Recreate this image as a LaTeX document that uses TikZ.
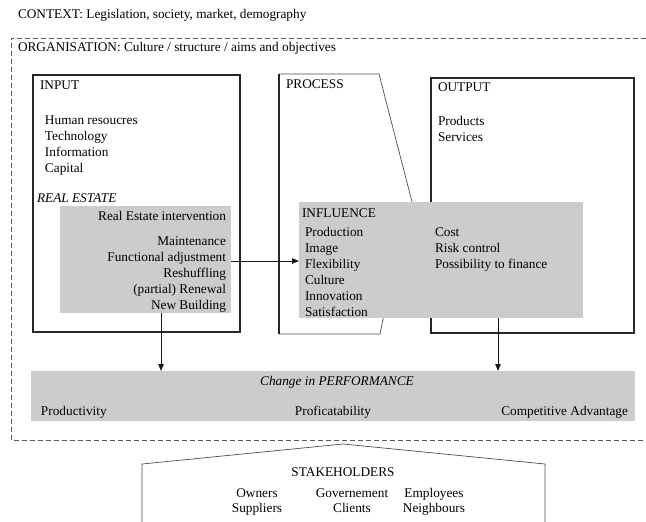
\documentclass[tikz,border=0pt]{standalone}
\usepackage{fontspec}
\setmainfont{Liberation Serif}
\usetikzlibrary{arrows.meta}
\begin{document}
\begin{tikzpicture}[x=1pt,y=-1pt,
  every node/.style={inner sep=0pt,outer sep=0pt,font=\fontsize{13.3}{16}\selectfont},
  lbl/.style={anchor=base west},
  rlbl/.style={anchor=base east},
  clbl/.style={anchor=base},
  frame/.style={draw=black!85,line width=1.1pt,anchor=north west},
  greybox/.style={fill=black!20,draw=none,anchor=north west},
  arr/.style={-{Triangle[length=7pt,width=5.5pt]},line width=0.9pt,black!90},
  orgline/.style={draw=black!65,dash pattern=on 5pt off 3pt,line width=0.9pt},
  thinline/.style={draw=black!70,line width=0.7pt}]
\useasboundingbox (0,0) rectangle (646,522);

% context and organisation
\node[lbl] (context) at (18,19) {CONTEXT: Legislation, society, market, demography};
\draw[orgline] (646,38) -- (11,38) -- (11,440) -- (646,440);
\node[lbl] (org) at (18,52) {ORGANISATION: Culture / structure / aims and objectives};

% input box
\node[frame, minimum width=207pt, minimum height=257pt] (input) at (33,75) {};
\node[lbl] (inlbl) at (40,89) {INPUT};
\node[lbl] (hr) at (45,124) {Human resoucres};
\node[lbl] (tech) at (45,140) {Technology};
\node[lbl] (info) at (45,156) {Information};
\node[lbl] (cap) at (45,172) {Capital};
\node[lbl,font=\fontsize{13.3}{16}\selectfont\itshape] (relbl) at (37,202) {REAL ESTATE};
\node[greybox, minimum width=171pt, minimum height=107pt] (re) at (60,206) {};
\node[rlbl] (rei) at (226,220) {Real Estate intervention};
\node[rlbl] (mnt) at (226,245) {Maintenance};
\node[rlbl] (fa) at (226,261) {Functional adjustment};
\node[rlbl] (resh) at (226,277) {Reshuffling};
\node[rlbl] (renew) at (226,293) {(partial) Renewal};
\node[rlbl] (nb) at (226,309) {New Building};

% process shape
\draw[thinline] (279,74) -- (379,74) -- (418,225) -- (386,305) -- (380,334) -- (279,334) -- cycle;
\draw[draw=black!85,line width=1.1pt] (279,74) -- (279,334);
\node[lbl] (proclbl) at (286,88) {PROCESS};

% output box
\node[frame, minimum width=203pt, minimum height=255pt] (output) at (431,78) {};
\node[lbl] (outlbl) at (438,91) {OUTPUT};
\node[lbl] (prod) at (438,125) {Products};
\node[lbl] (serv) at (438,141) {Services};

% influence box
\node[greybox, minimum width=284pt, minimum height=116pt] (infl) at (299,202) {};
\node[lbl] (infllbl) at (302,217) {INFLUENCE};
\node[lbl] (i1) at (305,236) {Production};
\node[lbl] (i2) at (305,252) {Image};
\node[lbl] (i3) at (305,268) {Flexibility};
\node[lbl] (i4) at (305,284) {Culture};
\node[lbl] (i5) at (305,300) {Innovation};
\node[lbl] (i6) at (305,316) {Satisfaction};
\node[lbl] (c1) at (435,236) {Cost};
\node[lbl] (c2) at (435,252) {Risk control};
\node[lbl] (c3) at (435,268) {Possibility to finance};

% performance box
\node[greybox, minimum width=604pt, minimum height=50pt] (perf) at (31,371) {};
\node[clbl,font=\fontsize{13.3}{16}\selectfont\itshape] (perflbl) at (337,385) {Change in PERFORMANCE};
\node[lbl] (p1) at (41,415) {Productivity};
\node[clbl] (p2) at (333,415) {Proficatability};
\node[rlbl] (p3) at (628,415) {Competitive Advantage};

% connectors
\coordinate (faend) at (231,261);
\coordinate (leftdrop) at (161,0);
\coordinate (rightdrop) at (498,0);
\draw[arr] (faend) -- (faend -| infl.west);
\draw[arr] (re.south -| leftdrop) -- (leftdrop |- perf.north);
\draw[arr] (infl.south -| rightdrop) -- (rightdrop |- perf.north);

% stakeholders
\draw[thinline] (142,522) -- (142,464) -- (343,444) -- (545,464) -- (545,522);
\node[clbl] (stk) at (343,476) {STAKEHOLDERS};
\node[clbl] (s1) at (257,497) {Owners};
\node[clbl] (s2) at (257,512) {Suppliers};
\node[clbl] (s3) at (352,497) {Governement};
\node[clbl] (s4) at (352,512) {Clients};
\node[clbl] (s5) at (434,497) {Employees};
\node[clbl] (s6) at (434,512) {Neighbours};
\end{tikzpicture}
\end{document}
